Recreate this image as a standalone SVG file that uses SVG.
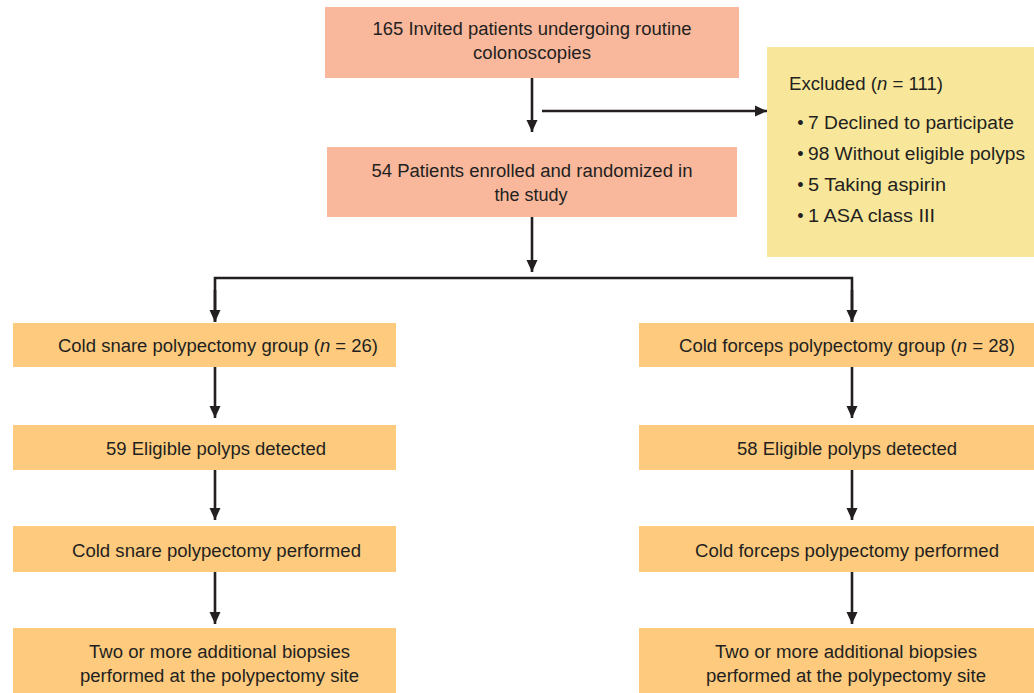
<svg xmlns="http://www.w3.org/2000/svg" width="1034" height="693" viewBox="0 0 1034 693">
<style>
.t{font-family:"Liberation Sans",Arial,sans-serif;font-size:18px;fill:#231F20;text-anchor:middle}
.l{font-family:"Liberation Sans",Arial,sans-serif;font-size:18px;fill:#231F20}
.b{font-family:"Liberation Sans",Arial,sans-serif;font-size:18px;fill:#231F20;text-anchor:middle}
.salmon{fill:#F9B89C}
.orange{fill:#FECB7E}
.yellow{fill:#F8E79B}
.c{stroke:#231F20;stroke-width:2.6;fill:none}
</style>
<defs>
<marker id="ah" markerUnits="userSpaceOnUse" markerWidth="12" markerHeight="12" refX="12" refY="6" orient="auto">
<path d="M0,0.5 L12,6 L0,11.5 z" fill="#231F20"/>
</marker>
</defs>
<rect width="1034" height="693" fill="#FFFFFF"/>
<g id="invited">
<rect class="salmon" x="325" y="7" width="414" height="71"/>
<text class="t" x="532" y="35" textLength="319" lengthAdjust="spacingAndGlyphs">165 Invited patients undergoing routine</text>
<text class="t" x="532" y="59" textLength="118" lengthAdjust="spacingAndGlyphs">colonoscopies</text>
</g>
<g id="enrolled">
<rect class="salmon" x="327" y="147" width="410" height="70"/>
<text class="t" x="532" y="177" textLength="321" lengthAdjust="spacingAndGlyphs">54 Patients enrolled and randomized in</text>
<text class="t" x="531" y="201" textLength="73" lengthAdjust="spacingAndGlyphs">the study</text>
</g>
<g id="excluded">
<rect class="yellow" x="767" y="47" width="267" height="210"/>
<text class="l" x="789" y="90" textLength="154" lengthAdjust="spacingAndGlyphs">Excluded (<tspan font-style="italic">n</tspan> = 111)</text>
<text class="b" x="800.5" y="129">•</text>
<text class="l" x="808" y="129" textLength="206" lengthAdjust="spacingAndGlyphs">7 Declined to participate</text>
<text class="b" x="800.5" y="160">•</text>
<text class="l" x="808" y="160" textLength="217" lengthAdjust="spacingAndGlyphs">98 Without eligible polyps</text>
<text class="b" x="800.5" y="191">•</text>
<text class="l" x="808" y="191" textLength="138" lengthAdjust="spacingAndGlyphs">5 Taking aspirin</text>
<text class="b" x="800.5" y="222">•</text>
<text class="l" x="808" y="222" textLength="127" lengthAdjust="spacingAndGlyphs">1 ASA class III</text>
</g>
<g id="snare-group">
<rect class="orange" x="13" y="323" width="383" height="44"/>
<text class="t" x="218" y="352" textLength="320" lengthAdjust="spacingAndGlyphs">Cold snare polypectomy group (<tspan font-style="italic">n</tspan> = 26)</text>
</g>
<g id="snare-polyps">
<rect class="orange" x="13" y="425" width="383" height="45"/>
<text class="t" x="216" y="455" textLength="220" lengthAdjust="spacingAndGlyphs">59 Eligible polyps detected</text>
</g>
<g id="snare-performed">
<rect class="orange" x="13" y="526" width="383" height="46"/>
<text class="t" x="216.5" y="557" textLength="289" lengthAdjust="spacingAndGlyphs">Cold snare polypectomy performed</text>
</g>
<g id="snare-biopsies">
<rect class="orange" x="13" y="628" width="383" height="65"/>
<text class="t" x="219.5" y="658" textLength="261" lengthAdjust="spacingAndGlyphs">Two or more additional biopsies</text>
<text class="t" x="219.5" y="682" textLength="279" lengthAdjust="spacingAndGlyphs">performed at the polypectomy site</text>
</g>
<g id="forceps-group">
<rect class="orange" x="639" y="323" width="395" height="44"/>
<text class="t" x="847" y="352" textLength="336" lengthAdjust="spacingAndGlyphs">Cold forceps polypectomy group (<tspan font-style="italic">n</tspan> = 28)</text>
</g>
<g id="forceps-polyps">
<rect class="orange" x="639" y="425" width="395" height="45"/>
<text class="t" x="847" y="455" textLength="220" lengthAdjust="spacingAndGlyphs">58 Eligible polyps detected</text>
</g>
<g id="forceps-performed">
<rect class="orange" x="639" y="526" width="395" height="46"/>
<text class="t" x="847" y="557" textLength="304" lengthAdjust="spacingAndGlyphs">Cold forceps polypectomy performed</text>
</g>
<g id="forceps-biopsies">
<rect class="orange" x="639" y="628" width="395" height="65"/>
<text class="t" x="846" y="658" textLength="262" lengthAdjust="spacingAndGlyphs">Two or more additional biopsies</text>
<text class="t" x="846" y="682" textLength="280" lengthAdjust="spacingAndGlyphs">performed at the polypectomy site</text>
</g>
<g id="connectors">
<line class="c" x1="532" y1="78" x2="532" y2="132" marker-end="url(#ah)"/>
<line class="c" x1="542" y1="111" x2="767" y2="111" marker-end="url(#ah)"/>
<line class="c" x1="532" y1="217" x2="532" y2="272" marker-end="url(#ah)"/>
<polyline class="c" points="215,322 215,278 852,278 852,322"/>
<line class="c" x1="215" y1="290" x2="215" y2="322" marker-end="url(#ah)"/>
<line class="c" x1="852" y1="290" x2="852" y2="322" marker-end="url(#ah)"/>
<line class="c" x1="215" y1="367" x2="215" y2="418" marker-end="url(#ah)"/>
<line class="c" x1="215" y1="470" x2="215" y2="520" marker-end="url(#ah)"/>
<line class="c" x1="215" y1="572" x2="215" y2="624" marker-end="url(#ah)"/>
<line class="c" x1="852" y1="367" x2="852" y2="418" marker-end="url(#ah)"/>
<line class="c" x1="852" y1="470" x2="852" y2="520" marker-end="url(#ah)"/>
<line class="c" x1="852" y1="572" x2="852" y2="624" marker-end="url(#ah)"/>
</g>
</svg>
